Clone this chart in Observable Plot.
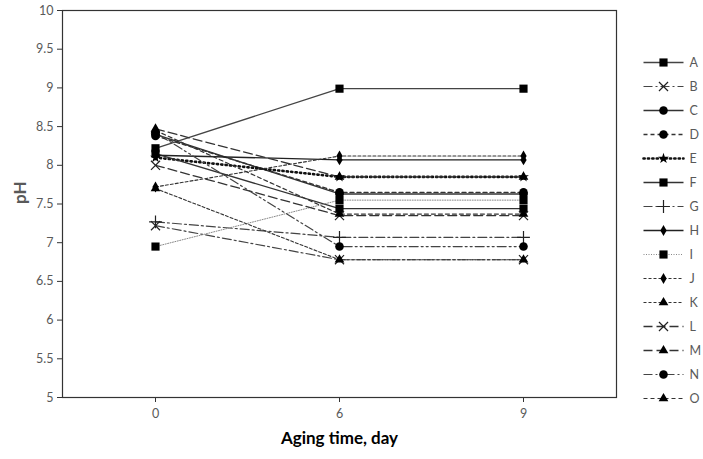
<!DOCTYPE html>
<html>
<head>
<meta charset="utf-8">
<script src="https://cdn.jsdelivr.net/npm/d3@7"></script>
<script src="https://cdn.jsdelivr.net/npm/@observablehq/plot@0.6"></script>
<style>
  html, body { margin: 0; padding: 0; background: #fff; }
  #wrap { position: relative; width: 703px; height: 459px; }
  #legend { position: absolute; left: 630px; top: 30px; }
</style>
</head>
<body>
<div id="wrap"><div id="main"></div><div id="legend"></div></div>
<script>
const days = ["0", "6", "9"];
const seriesNames = ["A","B","C","D","E","F","G","H","I","J","K","L","M","N","O"];
const yTicks = [5, 5.5, 6, 6.5, 7, 7.5, 8, 8.5, 9, 9.5, 10];

const A = [8.22, 8.99, 8.99];
const B = [7.22, 6.78, 6.78];
const C = [8.40, 7.63, 7.63];
const D = [8.38, 7.65, 7.65];
const E = [8.10, 7.85, 7.85];
const F = [8.15, 7.44, 7.44];
const G = [7.27, 7.07, 7.07];
const H = [8.13, 8.07, 8.07];
const I = [6.95, 7.55, 7.55];
const J = [7.72, 8.12, 8.12];
const K = [7.70, 6.78, 6.78];
const L = [8.00, 7.35, 7.35];
const M = [8.47, 7.85, 7.85];
const N = [8.42, 6.95, 6.95];
const O = [8.45, 7.37, 7.37];
const values = {A,B,C,D,E,F,G,H,I,J,K,L,M,N,O};

// styles per series
const styles = {
  A: {dash: null, symbol: "square", r: 4.6, sw: 1.3, stroke: "#444"},
  B: {dash: "9,3,2,3", symbol: "times", r: 4.2, sw: 1.2, stroke: "#444"},
  C: {dash: null, symbol: "circle", r: 4.3, sw: 1.4, stroke: "#333"},
  D: {dash: "4,3", symbol: "circle", r: 4.3, sw: 1.4, stroke: "#333"},
  E: {dash: "1.2,3.2", symbol: "star", r: 3.4, sw: 2.6, stroke: "#111", cap: "round"},
  F: {dash: null, symbol: "square", r: 4.6, sw: 1.4, stroke: "#333"},
  G: {dash: "9,3,2,3", symbol: "plus", r: 4.2, sw: 1.2, stroke: "#444"},
  H: {dash: null, symbol: "diamond", r: 3.3, sw: 1.3, stroke: "#222"},
  I: {dash: "1,1.5", symbol: "square", r: 4.6, sw: 1.0, stroke: "#888"},
  J: {dash: "3,2", symbol: "diamond", r: 3.3, sw: 1.1, stroke: "#333"},
  K: {dash: "3,2", symbol: "triangle", r: 3.6, sw: 1.1, stroke: "#333"},
  L: {dash: "9,4", symbol: "times", r: 4.2, sw: 1.3, stroke: "#333"},
  M: {dash: "9,4", symbol: "triangle", r: 3.6, sw: 1.3, stroke: "#333"},
  N: {dash: "9,3,2,3,2,3", symbol: "circle", r: 4.3, sw: 1.2, stroke: "#444"},
  O: {dash: "4,3", symbol: "triangle", r: 3.6, sw: 1.2, stroke: "#333"}
};

const rows = seriesNames.flatMap(s => values[s].map((v, j) => ({series: s, day: days[j], pH: v})));

const strokeSymbols = new Set(["times", "plus"]);
function dotOpts(s, extra) {
  const st = styles[s];
  const o = {symbol: st.symbol, r: st.r, ...extra};
  if (strokeSymbols.has(st.symbol)) { o.stroke = "#222"; o.strokeWidth = 1.2; o.fill = "none"; }
  else { o.fill = "#000"; o.stroke = "none"; }
  return o;
}
function lineOpts(s, extra) {
  const st = styles[s];
  const o = {stroke: st.stroke, strokeWidth: st.sw, ...extra};
  if (st.dash) o.strokeDasharray = st.dash;
  if (st.cap) o.strokeLinecap = st.cap;
  return o;
}

const fontFamily = "Lato, 'Open Sans', sans-serif";

const marks = [
  Plot.frame({stroke: "#333", strokeWidth: 1.2}),
  Plot.axisY({ticks: yTicks, tickSize: 5, tickPadding: 4, tickFormat: d => String(d), label: null, fill: "#595959", stroke: "#333", fontSize: 12.5}),
  Plot.axisX({tickSize: 5, tickPadding: 7, label: null, fill: "#595959", stroke: "#333", fontSize: 12.5}),
  Plot.text(["Aging time, day"], {frameAnchor: "bottom", dy: 46, fontWeight: "bold", fontSize: 17, fill: "#000"}),
  Plot.text(["pH"], {frameAnchor: "left", dx: -42, rotate: -90, fontWeight: "bold", fontSize: 17, fill: "#595959"})
];
for (const s of seriesNames) {
  const d = rows.filter(r => r.series === s);
  marks.push(Plot.line(d, lineOpts(s, {x: "day", y: "pH"})));
}
for (const s of seriesNames) {
  const d = rows.filter(r => r.series === s);
  marks.push(Plot.dot(d, dotOpts(s, {x: "day", y: "pH"})));
}

const chart = Plot.plot({
  width: 703,
  height: 459,
  marginLeft: 62,
  marginRight: 87,
  marginTop: 10,
  marginBottom: 62,
  style: {fontFamily, fontSize: "12px", background: "#fff"},
  x: {type: "point", domain: days, padding: 0.5},
  y: {domain: [5, 10]},
  marks
});
document.getElementById("main").appendChild(chart);

// legend
const legRows = seriesNames.map(s => ({series: s}));
const legMarks = [];
for (const s of seriesNames) {
  const d = legRows.filter(r => r.series === s);
  legMarks.push(Plot.link(d, lineOpts(s, {x1: () => 0, x2: () => 1, y1: "series", y2: "series"})));
}
for (const s of seriesNames) {
  const d = legRows.filter(r => r.series === s);
  legMarks.push(Plot.dot(d, dotOpts(s, {x: () => 0.5, y: "series"})));
}
legMarks.push(Plot.text(legRows, {x: () => 1, y: "series", text: "series", dx: 6, textAnchor: "start", fill: "#595959", fontSize: 12.5}));

const legend = Plot.plot({
  width: 73,
  height: 430,
  margin: 0,
  style: {fontFamily, fontSize: "12px", background: "transparent", overflow: "visible"},
  x: {domain: [0, 1], range: [13, 53], axis: null},
  y: {type: "point", domain: seriesNames, range: [17, 17 + 26.2 * 14], axis: null},
  marks: legMarks
});
document.getElementById("legend").appendChild(legend);
</script>
</body>
</html>
